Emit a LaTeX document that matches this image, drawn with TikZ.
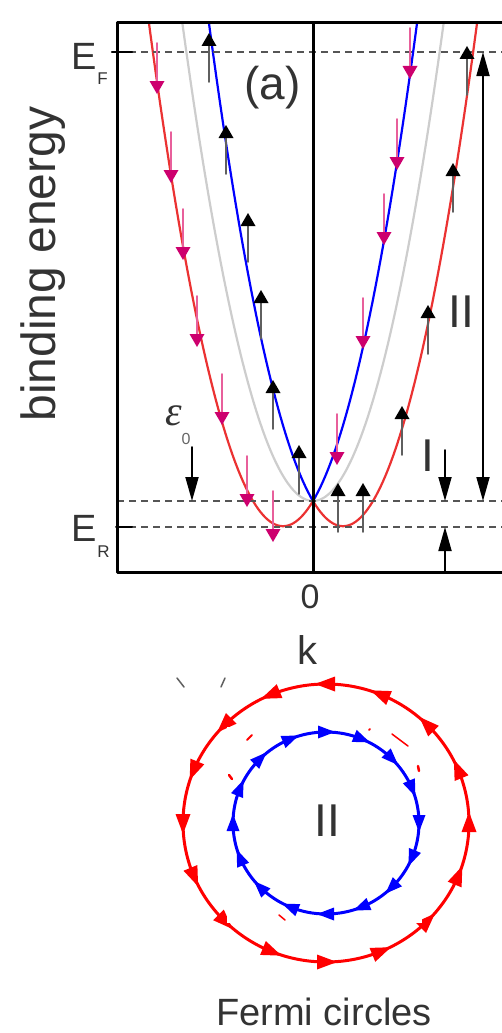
\documentclass[tikz,border=0pt]{standalone}
\usepackage{fontspec}
\setmainfont{Liberation Sans}
\newfontfamily\epsfont{Liberation Serif}
\usetikzlibrary{arrows.meta}

\definecolor{bandred}{RGB}{235,50,50}
\definecolor{bandgray}{RGB}{205,205,205}
\definecolor{levelgray}{RGB}{85,85,85}
\definecolor{spinred}{RGB}{205,0,110}
\definecolor{spinpink}{RGB}{232,95,155}
\definecolor{shaftgray}{RGB}{95,95,95}

\begin{document}
\begin{tikzpicture}[
	x=1pt, y=-1pt,
	line cap=round,
	line join=round,
	frame/.style={line width=3pt, black},
	level/.style={dash pattern=on 7pt off 5pt, line width=1.6pt, levelgray, line cap=butt},
	band/.style={line width=2.2pt},
	gap/.style={line width=1.8pt, black, -{Triangle[length=24pt,width=13pt]}},
	lbl/.style={inner sep=0pt, text=black!80},
	]
	\useasboundingbox (0,0) rectangle (502,1033);
	
	% Bands
	\begin{scope}
		\clip (117,23) rectangle (502,572);
		\begin{scope}[shift={(313,501)}]
			\draw[band, bandgray] plot[domain=-140:140, samples=113] (\x, {-(2.8*(\x/10)*(\x/10))});
			\draw[band, bandred] plot[domain=-175:175, samples=141] (\x, {-(2.8*(\x/10)*(\x/10) - 1.68*abs(\x))});
			\draw[band, blue] plot[domain=-115:115, samples=93] (\x, {-(2.8*(\x/10)*(\x/10) + 1.68*abs(\x))});
		\end{scope}
	\end{scope}
	
	% Levels
	\draw[level] (117,52) -- (502,52);
	\draw[level] (117,501) -- (502,501);
	\draw[level] (117,527) -- (502,527);
	\draw[line width=2.4pt] (112,52) -- (132,52);
	\draw[line width=2pt] (116,527) -- (132,527);
	
	% Frame
	\draw[frame] (502,23) -- (117,23) -- (117,572) -- (502,572);
	\draw[frame] (313,23) -- (313,572);
	
	% Spin up
	\foreach \x/\y in {209/40, 226/132, 248/220, 261/297, 273/387, 299/452,
		338/490, 363/490, 402/413, 428/312, 453/170, 467/53}{
		\draw[shaftgray, line width=1.8pt] (\x,\y+42) -- (\x,\y+4);
		\fill[black] (\x,\y-7) -- (\x-7.5,\y+6) -- (\x+7.5,\y+6) -- cycle;
	}
	
	% Spin down
	\foreach \x/\y in {157/87, 171/176, 183/253, 197/340, 222/418, 247/500, 273/535,
		410/72, 397/163, 384/238, 363/342, 337/458}{
		\draw[spinpink, line width=1.6pt] (\x,\y-44) -- (\x,\y-4);
		\fill[spinred] (\x,\y+7) -- (\x-7.5,\y-6) -- (\x+7.5,\y-6) -- cycle;
	}
	
	% Gaps
	\coordinate (eps top) at (192,447);
	\coordinate (eps tip) at (192,501);
	\coordinate (one top) at (445,450);
	\coordinate (one tip) at (445,501);
	\coordinate (one bot) at (445,572);
	\coordinate (one low) at (445,527);
	\coordinate (two top) at (483,52);
	\coordinate (two tip) at (483,501);
	\draw[gap] (eps top) -- (eps tip);
	\draw[gap] (one top) -- (one tip);
	\draw[gap] (one bot) -- (one low);
	\draw[gap, {Triangle[length=24pt,width=13pt]}-{Triangle[length=24pt,width=13pt]}] (two top) -- (two tip);
	
	% Labels
	\node[lbl, font=\fontsize{38}{38}\selectfont] (EF) at (84.5,56.5) {E};
	\node[lbl, font=\fontsize{17}{17}\selectfont] (EFsub) at (102.5,78.5) {F};
	\node[lbl, font=\fontsize{38}{38}\selectfont] (ER) at (84.5,528) {E};
	\node[lbl, font=\fontsize{17}{17}\selectfont] (ERsub) at (103.5,552) {R};
	\node[lbl, font=\fontsize{46}{46}\selectfont] (panel) at (272.5,87.5) {(a)};
	\node[lbl, rotate=90, font=\fontsize{48}{48}\selectfont] (ylabel) at (43,264) {binding energy};
	\node[lbl, font=\fontsize{34}{34}\selectfont] (zero) at (310,597) {0};
	\node[lbl, font=\fontsize{40}{40}\selectfont] (klabel) at (307,650) {k};
	\node[lbl, font=\fontsize{46}{46}\selectfont] (one) at (428,456) {I};
	\node[lbl, font=\fontsize{46}{46}\selectfont] (two) at (461,312) {II};
	\node[lbl, font=\epsfont\itshape\fontsize{42}{42}\selectfont] (eps) at (174,416) {ε};
	\node[lbl, text=black!60, font=\fontsize{16}{16}\selectfont] (epssub) at (186,439) {0};
	
	% Cut-off marks
	\draw[shaftgray, line width=1.5pt] (177,678) -- (184,687);
	\draw[shaftgray, line width=1.5pt] (225,678) -- (221,687);
	
	% Fermi circles
	\begin{scope}[shift={(326,823)}, y=1pt]
		\draw[red, line width=3pt] (0,0) ellipse[x radius=143, y radius=139];
		\foreach \a in {0, 22.5, ..., 337.5}
		\fill[red, shift={(\a:143 and 139)}, rotate={\a+90}] (11,0) -- (-9,7.5) -- (-9,-7.5) -- cycle;
		
		\fill[white] (-99,96) rectangle (96,-100);
		\draw[red, line width=2pt] (-79,83) -- (-74,88);
		\draw[red, line width=2.5pt] (-97,48) -- (-94,44);
		\draw[red, line width=2pt] (43,93) -- (44,94);
		\draw[red, line width=1.5pt] (66,89) -- (82,77);
		\draw[red, line width=2.5pt] (92,57) -- (93,52);
		\draw[red, line width=1.5pt] (-47,-92) -- (-41,-97);
		
		\draw[blue, line width=3pt] (0,0) ellipse[x radius=93, y radius=91];
		\foreach \a in {0, 22.5, ..., 337.5}
		\fill[blue, shift={(\a:93 and 91)}, rotate={\a-90}] (9,0) -- (-8,6.5) -- (-8,-6.5) -- cycle;
	\end{scope}
	\node[lbl, font=\fontsize{46}{46}\selectfont] (inner) at (327,821) {II};
	\node[lbl, font=\fontsize{38}{38}\selectfont] (caption) at (324,1012) {Fermi circles};
\end{tikzpicture}
\end{document}
